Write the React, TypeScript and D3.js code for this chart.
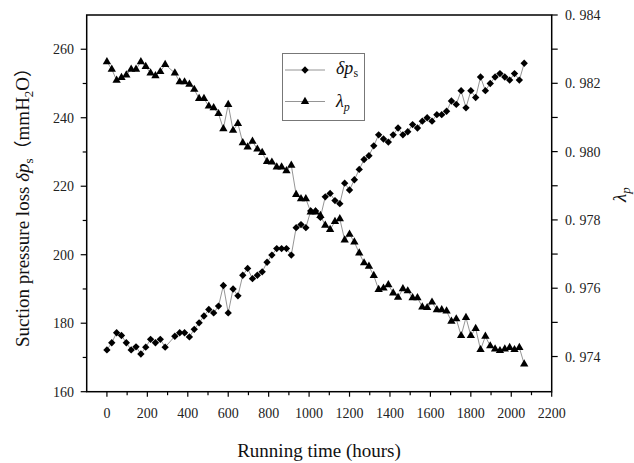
import React from 'react';
import * as d3 from 'd3';

const hours = [0, 24, 48, 72, 96, 120, 144, 168, 192, 216, 240, 264, 288,
  336, 360, 384, 408, 432, 456, 480, 504, 528, 552, 576, 600, 624, 648, 672, 696, 720, 744, 768, 792,
  816, 840, 864, 888, 912, 936, 960, 984, 1008, 1032, 1056, 1080, 1104, 1128, 1152, 1176, 1200, 1224,
  1248, 1272, 1296, 1320, 1344, 1368, 1392, 1416, 1440, 1464, 1488, 1512, 1536, 1560, 1584, 1608, 1632,
  1656, 1680, 1704, 1728, 1752, 1776, 1800, 1824, 1848, 1872, 1896, 1920, 1944, 1968, 1992, 2016, 2040, 2064];

const pressureLoss = [172.2, 174.3, 177.2, 176.4, 174.3, 172.2, 173.1, 171.0, 173.0, 175.3, 174.3, 175.3, 173.0,
  176.2, 177.2, 177.2, 176.0, 178.2, 180.1, 182.1, 184.0, 183.0, 185.0,
  191.0, 183.0, 190.0, 188.0, 194.0, 196.0, 193.0, 194.0, 195.0, 197.8,
  199.9, 201.8, 201.8, 201.8, 199.9, 207.9, 208.8, 207.9, 212.8, 212.8,
  210.9, 216.9, 217.9, 215.8, 214.9, 220.9, 218.9, 221.9, 224.9, 227.8,
  228.9, 231.8, 235.0, 233.8, 232.9, 235.0, 237.0, 235.0, 235.9, 238.0,
  237.0, 239.0, 240.0, 239.0, 240.9, 240.9, 241.9, 244.9, 243.9, 247.9,
  242.9, 247.9, 245.9, 251.9, 247.9, 250.0, 251.9, 252.9, 251.9, 251.0,
  252.9, 251.0, 255.9];

const lambdaP = [0.98263, 0.98241, 0.98209, 0.98217, 0.98224, 0.98241, 0.98241, 0.98263, 0.98249, 0.9823, 0.98222, 0.98234, 0.98255,
  0.9823, 0.98204, 0.98204, 0.98197, 0.98182, 0.98155, 0.98155, 0.98133, 0.98128, 0.98111,
  0.98067, 0.98138, 0.98062, 0.98082, 0.98026, 0.98013, 0.9803, 0.98007, 0.97997, 0.97971,
  0.97969, 0.97955, 0.97955, 0.97944, 0.9796, 0.97874, 0.97862, 0.97862, 0.97823, 0.97823,
  0.97813, 0.97784, 0.97772, 0.97795, 0.97803, 0.97741, 0.97758, 0.97735, 0.97703, 0.97674,
  0.97664, 0.97637, 0.97596, 0.976, 0.9761, 0.97586, 0.97573, 0.97598, 0.97592, 0.97572,
  0.97572, 0.97545, 0.97543, 0.97559, 0.97537, 0.97537, 0.97533, 0.97503, 0.9751, 0.97461,
  0.97514, 0.97461, 0.97482, 0.9742, 0.97459, 0.97431, 0.97422, 0.97417, 0.97422, 0.97426,
  0.9742, 0.97426, 0.97378];

const xMajorTicks = [0, 200, 400, 600, 800, 1000, 1200, 1400, 1600, 1800, 2000, 2200];
const xMinorTicks = [100, 300, 500, 700, 900, 1100, 1300, 1500, 1700, 1900, 2100];
const leftMajorTicks = [160, 180, 200, 220, 240, 260];
const leftMinorTicks = [170, 190, 210, 230, 250];
const rightMajorTicks = [0.974, 0.976, 0.978, 0.98, 0.982, 0.984];
const rightMinorTicks = [0.975, 0.977, 0.979, 0.981, 0.983];

const W = 634, H = 463;
const L = 86.7, R = 551.7, T = 15, B = 391.7;
const serif = '"Liberation Serif", "Times New Roman", serif';
const cjk = '"Noto Sans CJK SC", sans-serif';

export default function App() {
  const x = d3.scaleLinear().domain([-100, 2200]).range([L, R]);
  const yL = d3.scaleLinear().domain([160, 270]).range([B, T]);
  const yR = d3.scaleLinear().domain([0.97297, 0.984]).range([B, T]);

  const lineP = d3.line<number>().x((_, i) => x(hours[i])).y(d => yL(d));
  const lineL = d3.line<number>().x((_, i) => x(hours[i])).y(d => yR(d));
  const diamond = d3.symbol().type(d3.symbolSquare).size(27)() as string;
  const tri = d3.symbol().type(d3.symbolTriangle).size(30)() as string;
  const lineColor = '#7a7a7a';

  const fmtR = (v: number) => v.toFixed(3);

  return (
    <svg width={W} height={H} style={{ position: 'absolute', left: 0, top: 0, background: '#fff' }}
      fontFamily={serif}>
      <rect x={0} y={0} width={W} height={H} fill="#fff" />
      {/* series lines */}
      <path d={lineP(pressureLoss) || ''} fill="none" stroke={lineColor} strokeWidth={0.8} />
      <path d={lineL(lambdaP) || ''} fill="none" stroke={lineColor} strokeWidth={0.8} />
      {pressureLoss.map((v, i) => (
        <path key={'d' + i} d={diamond} transform={`translate(${x(hours[i])},${yL(v)}) rotate(45)`} fill="#000" />
      ))}
      {lambdaP.map((v, i) => (
        <path key={'t' + i} d={tri} transform={`translate(${x(hours[i])},${yR(v)})`} fill="#000" />
      ))}

      {/* frame */}
      <rect x={L} y={T} width={R - L} height={B - T} fill="none" stroke="#000" strokeWidth={1.5} />

      {/* x ticks */}
      {xMajorTicks.map(t => (
        <g key={'xt' + t}>
          <line x1={x(t)} x2={x(t)} y1={B} y2={B + 5} stroke="#000" strokeWidth={1.2} />
          <text x={x(t)} y={418} textAnchor="middle" fontSize={14} fill="#222">{t}</text>
        </g>
      ))}
      {xMinorTicks.map(t => (
        <line key={'xm' + t} x1={x(t)} x2={x(t)} y1={B} y2={B + 3.5} stroke="#000" strokeWidth={1.2} />
      ))}

      {/* left ticks */}
      {leftMajorTicks.map(t => (
        <g key={'lt' + t}>
          <line x1={L - 6} x2={L} y1={yL(t)} y2={yL(t)} stroke="#000" strokeWidth={1.2} />
          <text x={74} y={yL(t) + 5} textAnchor="end" fontSize={14} fill="#222">{t}</text>
        </g>
      ))}
      {leftMinorTicks.map(t => (
        <line key={'lm' + t} x1={L - 4} x2={L} y1={yL(t)} y2={yL(t)} stroke="#000" strokeWidth={1.2} />
      ))}

      {/* right ticks */}
      {rightMajorTicks.map(t => {
        const s = fmtR(t);
        return (
          <g key={'rt' + t}>
            <line x1={R} x2={R + 6} y1={yR(t)} y2={yR(t)} stroke="#000" strokeWidth={1.2} />
            <text x={565} y={yR(t) + 5} fontSize={14} fill="#222">
              {s.slice(0, 2)}<tspan dx={4}>{s.slice(2)}</tspan>
            </text>
          </g>
        );
      })}
      {rightMinorTicks.map(t => (
        <line key={'rm' + t} x1={R} x2={R + 6} y1={yR(t)} y2={yR(t)} stroke="#000" strokeWidth={1.2} />
      ))}

      {/* axis titles */}
      <text x={319} y={457} textAnchor="middle" fontSize={19} fill="#111">Running time (hours)</text>
      <text transform="translate(29,347) rotate(-90)" fontSize={19} fill="#111">
        Suction pressure loss <tspan fontStyle="italic">δp</tspan>
        <tspan fontSize={13} dy={4}>s</tspan>
        <tspan dy={-4} fontFamily={cjk} fontSize={18}>（</tspan>mmH
        <tspan fontSize={13} dy={4}>2</tspan>
        <tspan dy={-4}>O</tspan>
        <tspan fontFamily={cjk} fontSize={18}>）</tspan>
      </text>
      <text transform="translate(626,202) rotate(-90)" fontSize={19} fill="#111">
        <tspan fontStyle="italic">λ</tspan>
        <tspan fontStyle="italic" fontSize={13} dy={4}>p</tspan>
      </text>

      {/* legend */}
      <rect x={282.5} y={53.5} width={82} height={67} fill="#fff" stroke="#777" strokeWidth={1} />
      <line x1={285} x2={325} y1={70} y2={70} stroke={lineColor} strokeWidth={0.8} />
      <path d={diamond} transform="translate(305,70) rotate(45)" fill="#000" />
      <line x1={285} x2={325} y1={101.5} y2={101.5} stroke={lineColor} strokeWidth={0.8} />
      <path d={tri} transform="translate(305,101.5)" fill="#000" />
      <text x={336} y={74} fontSize={18} fill="#111">
        <tspan fontStyle="italic">δp</tspan>
        <tspan fontSize={12} dy={3}>s</tspan>
      </text>
      <text x={336} y={107} fontSize={18} fill="#111">
        <tspan fontStyle="italic">λ</tspan>
        <tspan fontStyle="italic" fontSize={12} dy={4}>p</tspan>
      </text>
    </svg>
  );
}
